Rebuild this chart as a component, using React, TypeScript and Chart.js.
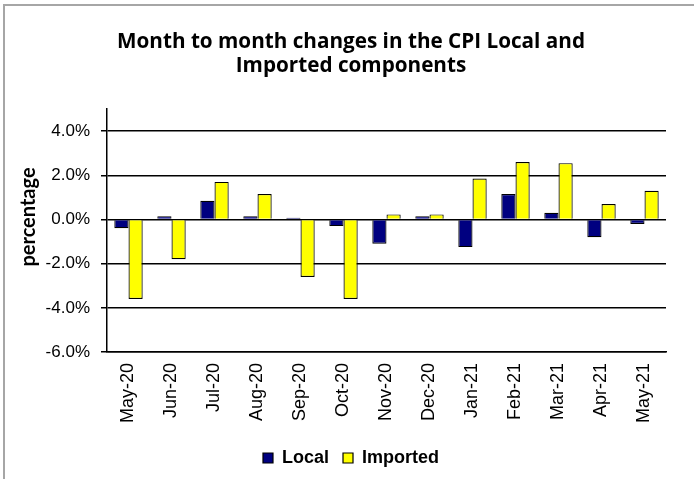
import React, { useEffect, useRef } from "react";
import { Chart, registerables } from "chart.js";

Chart.register(...registerables);

const categories = [
  "May-20", "Jun-20", "Jul-20", "Aug-20", "Sep-20", "Oct-20", "Nov-20",
  "Dec-20", "Jan-21", "Feb-21", "Mar-21", "Apr-21", "May-21",
];
const localValues = [-0.4, 0.15, 0.85, 0.15, 0.08, -0.3, -1.1, 0.15, -1.25, 1.15, 0.3, -0.8, -0.2];
const importedValues = [-3.6, -1.8, 1.7, 1.15, -2.6, -3.6, 0.23, 0.23, 1.85, 2.6, 2.55, 0.7, 1.3];
const titleLines = ["Month to month changes in the CPI Local and", "Imported components"];
const yAxisTitle = "percentage";

const yTitlePlugin = {
  id: "yTitle",
  afterDraw(chart: any) {
    const ctx = chart.ctx;
    ctx.save();
    ctx.translate(29, 217);
    ctx.rotate(-Math.PI / 2);
    ctx.font = "bold 20px Lato";
    ctx.fillStyle = "#000";
    ctx.textAlign = "center";
    ctx.textBaseline = "middle";
    ctx.fillText(yAxisTitle, 0, 0);
    ctx.restore();
  },
};

export default function App() {
  const ref = useRef<HTMLCanvasElement | null>(null);
  useEffect(() => {
    if (!ref.current) return;
    const chart = new Chart(ref.current, {
      type: "bar",
      data: {
        labels: categories,
        datasets: [
          {
            label: "Local",
            data: localValues,
            backgroundColor: "#000080",
            borderColor: "#000000",
            borderWidth: 1.2,
            categoryPercentage: 0.66,
            barPercentage: 1,
          },
          {
            label: "Imported",
            data: importedValues,
            backgroundColor: "#FFFF00",
            borderColor: "#000000",
            borderWidth: 1.2,
            categoryPercentage: 0.66,
            barPercentage: 1,
          },
        ],
      },
      options: {
        responsive: false,
        animation: false,
        maintainAspectRatio: false,
        layout: { padding: { left: 36, right: 28, top: 0, bottom: 2 } },
        plugins: {
          title: {
            display: true,
            text: titleLines,
            color: "#000",
            font: { family: "Open Sans", size: 20.7, weight: "bold", lineHeight: 1.16 },
            padding: { top: 30, bottom: 31 },
          },
          legend: {
            display: true,
            position: "bottom",
            labels: {
              color: "#000",
              boxWidth: 10,
              boxHeight: 10,
              padding: 14,
              font: { family: "Liberation Sans", size: 18, weight: "bold" },
            },
          },
          tooltip: { enabled: false },
        },
        scales: {
          x: {
            grid: { display: false, drawTicks: true, tickLength: 8 },
            border: { display: true, color: "#000", width: 1.5 },
            ticks: {
              color: "#000",
              minRotation: 90,
              maxRotation: 90,
              padding: 3,
              font: { family: "Liberation Sans", size: 18 },
            },
            afterFit(scale: any) {
              scale.height = 83;
            },
          },
          y: {
            min: -6,
            max: 5,
            grid: {
              color: (c: any) => (c.tick && c.tick.value === 5 ? "rgba(0,0,0,0)" : "#000"),
              lineWidth: 1.5,
              drawTicks: true,
              tickLength: 6,
            },
            border: { display: true, color: "#000", width: 1.5 },
            ticks: {
              stepSize: 2,
              color: "#000",
              padding: 11,
              font: { family: "Liberation Sans", size: 17 },
              callback: (v: any) => (Number(v) === 5 ? "" : Number(v).toFixed(1) + "%"),
            },
            afterFit(scale: any) {
              scale.width = 71;
            },
          },
        },
      },
      plugins: [yTitlePlugin],
    });
    return () => chart.destroy();
  }, []);

  return (
    <div style={{ position: "absolute", left: 0, top: 0, width: 694, height: 479, overflow: "hidden", background: "#fff" }}>
      <div
        style={{
          position: "absolute",
          left: 3,
          top: 4,
          width: 720,
          height: 500,
          borderLeft: "2px solid #a6a6a6",
          borderTop: "2px solid #a6a6a6",
        }}
      />
      <canvas
        ref={ref}
        width={694}
        height={479}
        style={{ position: "absolute", left: 0, top: 0, width: 694, height: 479 }}
      />
    </div>
  );
}
